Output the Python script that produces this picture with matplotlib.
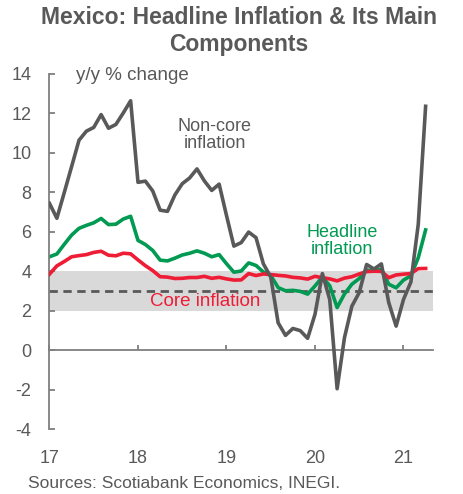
import numpy as np
import matplotlib.pyplot as plt

# monthly y/y % change, Jan 2017 - Apr 2021
headline = [4.72, 4.86, 5.35, 5.82, 6.16, 6.31, 6.44, 6.66, 6.35, 6.37, 6.63, 6.77,
            5.55, 5.34, 5.04, 4.55, 4.51, 4.65, 4.81, 4.90, 5.02, 4.90, 4.72, 4.83,
            4.37, 3.94, 4.00, 4.41, 4.28, 3.95, 3.78, 3.16, 3.00, 3.02, 2.97, 2.83,
            3.24, 3.70, 3.25, 2.15, 2.84, 3.33, 3.62, 4.05, 4.01, 4.09, 3.33, 3.15,
            3.54, 3.76, 4.67, 6.08]
core = [3.84, 4.26, 4.48, 4.72, 4.78, 4.83, 4.94, 5.00, 4.80, 4.77, 4.90, 4.87,
        4.56, 4.27, 4.02, 3.71, 3.69, 3.62, 3.63, 3.67, 3.67, 3.73, 3.63, 3.68,
        3.60, 3.54, 3.55, 3.87, 3.77, 3.85, 3.82, 3.78, 3.75, 3.68, 3.65, 3.59,
        3.73, 3.66, 3.60, 3.50, 3.64, 3.71, 3.85, 3.97, 3.99, 3.98, 3.66, 3.80,
        3.84, 3.87, 4.12, 4.13]
noncore = [7.42, 6.67, 7.97, 9.29, 10.62, 11.08, 11.27, 11.92, 11.23, 11.42, 12.00, 12.62,
           8.49, 8.55, 8.05, 7.08, 7.02, 7.85, 8.42, 8.71, 9.17, 8.56, 8.08, 8.40,
           6.81, 5.26, 5.44, 5.97, 5.69, 4.36, 3.70, 1.38, 0.74, 1.09, 0.98, 0.59,
           1.81, 3.87, 2.55, -1.96, 0.63, 2.22, 2.91, 4.33, 4.10, 4.36, 2.40, 1.21,
           2.56, 3.44, 6.36, 12.34]
year_labels = ['17', '18', '19', '20', '21']
target_lo, target_mid, target_hi = 2, 3, 4

grey = '#595959'
green = '#009A52'
red = '#EE1C35'

W, H = 464, 494
plt.rcParams['font.family'] = ['Liberation Sans', 'DejaVu Sans']
plt.rcParams['axes.unicode_minus'] = False
fig = plt.figure(figsize=(W / 100, H / 100), dpi=100)
ax = fig.add_axes([49.5 / W, 1 - 429 / H, (433 - 49.5) / W, (429 - 73.5) / H])

xs = np.arange(len(headline))
ax.axhspan(target_lo, target_hi, color='#D9D9D9', lw=0, zorder=0)
ax.axhline(target_mid, color=grey, lw=2, ls=(0, (3, 2)), zorder=1)
ax.plot(xs, core, color=red, lw=2.6, zorder=3, solid_joinstyle='round')
ax.plot(xs, headline, color=green, lw=2.6, zorder=2, solid_joinstyle='round')
ax.plot(xs, noncore, color=grey, lw=2.6, zorder=4, solid_joinstyle='round')

ax.set_xlim(0, 52)
ax.set_ylim(-4, 14)
ax.set_yticks(range(-4, 15, 2))
ax.set_xticks(range(0, 49, 12))
ax.set_xticklabels([])
for s in ['top', 'right']:
    ax.spines[s].set_visible(False)
ax.spines['bottom'].set_position(('data', 0))
for s in ['left', 'bottom']:
    ax.spines[s].set_color('#7F7F7F')
    ax.spines[s].set_linewidth(1.3)
ax.tick_params(axis='y', direction='in', length=4, width=1.3, color='#7F7F7F',
               labelsize=13, labelcolor=grey, pad=13)
ax.tick_params(axis='x', direction='in', length=3.5, width=1.3, color='#7F7F7F')
for i, lab in enumerate(year_labels):
    ax.text(i * 12, -0.082, lab, transform=ax.get_xaxis_transform(),
            ha='center', va='center', fontsize=13, color=grey)

def px(x, y):
    return x / W, 1 - y / H

fig.text(*px(239, 18), 'Mexico: Headline Inflation & Its Main', ha='center', va='center',
         fontsize=16.5, fontweight='bold', color=grey)
fig.text(*px(239, 44), 'Components', ha='center', va='center',
         fontsize=16.5, fontweight='bold', color=grey)
fig.text(*px(76, 75), 'y/y % change', ha='left', va='center', fontsize=13.5, color=grey)
fig.text(*px(215, 135), 'Non-core\ninflation', ha='center', va='center', fontsize=13,
         color=grey, linespacing=1.0)
fig.text(*px(342, 241), 'Headline\ninflation', ha='center', va='center', fontsize=13,
         color=green, linespacing=1.0)
fig.text(*px(205, 302), 'Core inflation', ha='center', va='center', fontsize=13.5, color=red)
fig.text(*px(28, 483), 'Sources: Scotiabank Economics, INEGI.', ha='left', va='center',
         fontsize=12.5, color=grey)

fig.savefig('out.png', dpi=100)
